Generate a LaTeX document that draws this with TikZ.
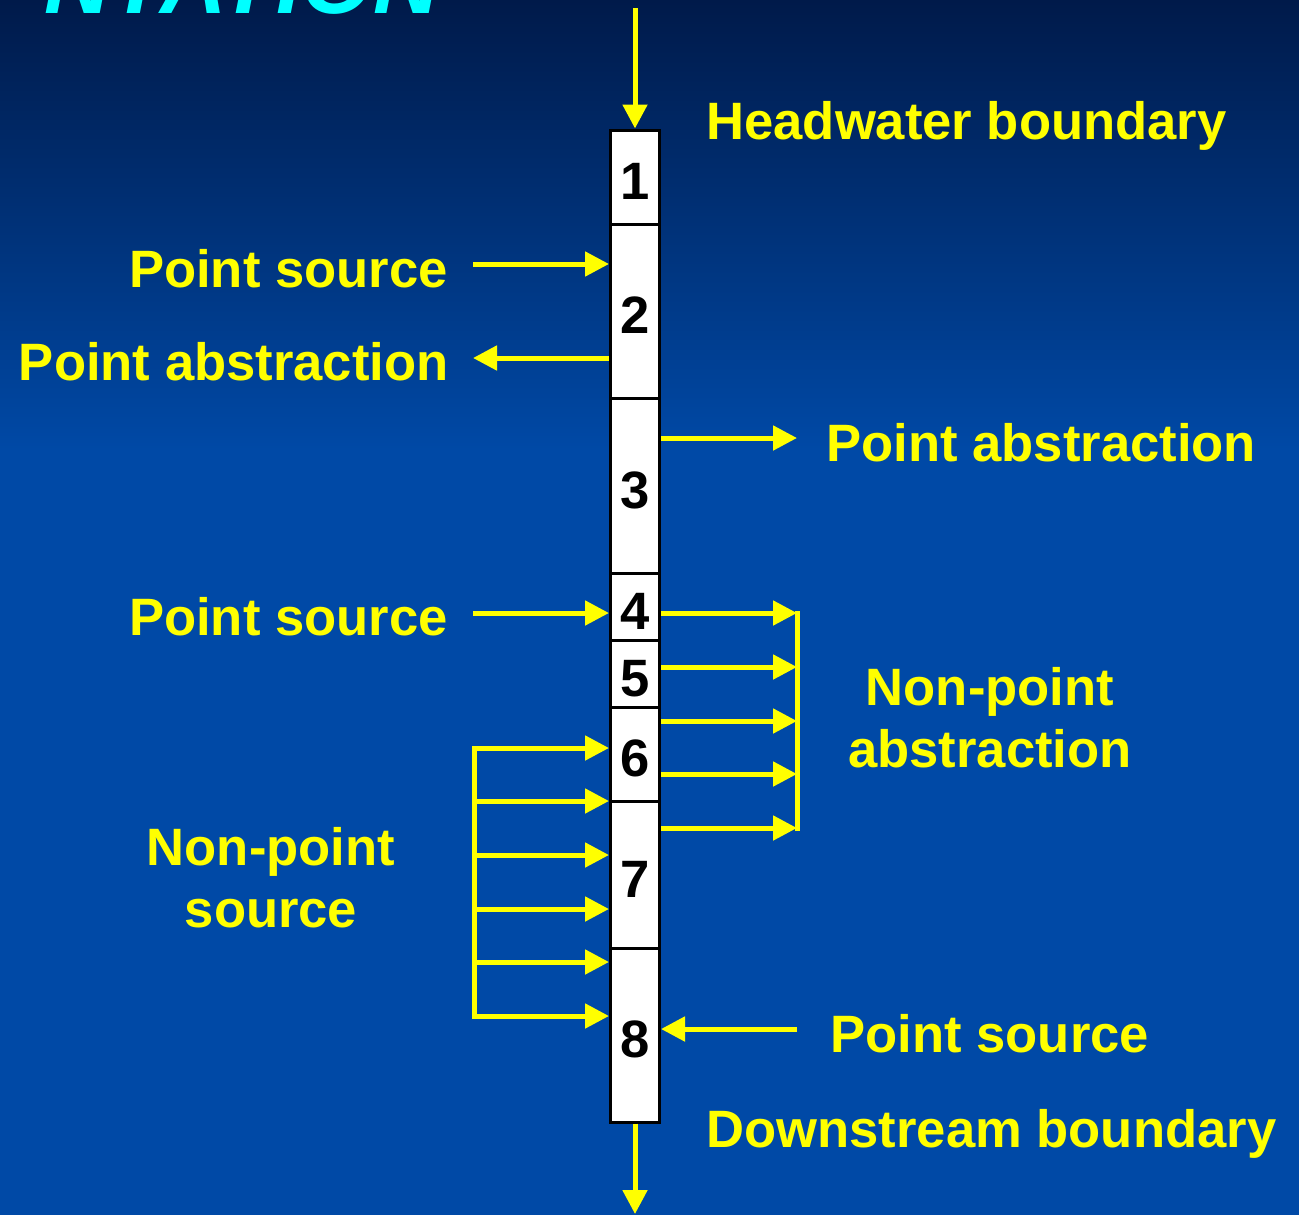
\documentclass[tikz,border=0pt]{standalone}
\usepackage{fontspec}
\setmainfont{Liberation Sans}
\usetikzlibrary{arrows.meta}
\definecolor{bgtop}{HTML}{001A4A}
\definecolor{bgbot}{HTML}{0049A6}
\definecolor{ylw}{HTML}{FFFF00}
\definecolor{cyn}{HTML}{00FFFF}
\begin{document}
\begin{tikzpicture}[x=0.5pt,y=-0.5pt,
  lbl/.style={text=ylw, font=\fontsize{26.3}{31}\selectfont\bfseries, inner sep=0pt},
  cell/.style={draw=black, line width=1.5pt, fill=white, minimum width=24.5pt, inner sep=0pt,
    font=\fontsize{26.3}{31}\selectfont\bfseries, text height=22.8pt, text depth=0pt},
  flow/.style={draw=ylw, line width=2.5pt, -{Triangle[length=12pt,width=12pt]}},
  rail/.style={draw=ylw, line width=2.5pt, line cap=rect}]
\clip (0,0) rectangle (1299,1215);
\fill[bgbot] (0,0) rectangle (1299,1215);
\shade[top color=bgtop, bottom color=bgbot] (0,0) rectangle (1299,450);
% title fragment
\node[text=cyn, font=\fontsize{46}{50}\selectfont\bfseries\itshape, anchor=base east, inner sep=0pt] (title) at (440,13) {NTATION};
% cells
\node[cell, minimum height=47pt]   (b1) at (635,177)   {1};
\node[cell, minimum height=87pt]   (b2) at (635,311)   {2};
\node[cell, minimum height=87.5pt] (b3) at (635,485.5) {3};
\node[cell, minimum height=33.5pt] (b4) at (635,606.5) {4};
\node[cell, minimum height=33.5pt] (b5) at (635,673.5) {5};
\node[cell, minimum height=47pt]   (b6) at (635,754)   {6};
\node[cell, minimum height=73.5pt] (b7) at (635,874.5) {7};
\node[cell, minimum height=87pt]   (b8) at (635,1035)  {8};
% labels
\node[lbl, anchor=base west] (hw)  at (706,139)  {Headwater boundary};
\node[lbl, anchor=base east] (ps1) at (448,287)  {Point source};
\node[lbl, anchor=base east] (pa1) at (449,380)  {Point abstraction};
\node[lbl, anchor=base west] (pa2) at (826,461)  {Point abstraction};
\node[lbl, anchor=base east] (ps2) at (448,635)  {Point source};
\node[lbl, align=center, anchor=north] (npa) at (990,667) {Non-point\\abstraction};
\node[lbl, align=center, anchor=north] (nps) at (271,827) {Non-point\\source};
\node[lbl, anchor=base west] (ps3) at (830,1052) {Point source};
\node[lbl, anchor=base west] (ds)  at (706,1147) {Downstream boundary};
% boundary arrows
\coordinate (top) at (635,8);
\coordinate (bot) at (635,1214);
\draw[flow] (top) -- (b1.north);
\draw[flow] (b8.south) -- (bot);
% point sources / abstractions
\coordinate (ps1e) at (473,264);
\coordinate (pa1e) at (473,358);
\coordinate (pa2e) at (797,438);
\coordinate (ps2e) at (473,613);
\coordinate (ps3e) at (797,1029);
\draw[flow] (ps1e) -- (ps1e -| b2.west);
\draw[flow] (pa1e -| b2.west) -- (pa1e);
\draw[flow] (pa2e -| b3.east) -- (pa2e);
\draw[flow] (ps2e) -- (ps2e -| b4.west);
\draw[flow] (ps3e) -- (ps3e -| b8.east);
% non-point abstraction
\coordinate (na1) at (797,613);
\coordinate (na2) at (797,667);
\coordinate (na3) at (797,721);
\coordinate (na4) at (797,774);
\coordinate (na5) at (797,828);
\draw[rail] (na1) -- (na5);
\draw[flow] (na1 -| b4.east) -- (na1);
\draw[flow] (na2 -| b5.east) -- (na2);
\draw[flow] (na3 -| b6.east) -- (na3);
\draw[flow] (na4 -| b6.east) -- (na4);
\draw[flow] (na5 -| b7.east) -- (na5);
% non-point source
\coordinate (ns1) at (474,748);
\coordinate (ns2) at (474,801);
\coordinate (ns3) at (474,855);
\coordinate (ns4) at (474,909);
\coordinate (ns5) at (474,962);
\coordinate (ns6) at (474,1016);
\draw[rail] (ns1) -- (ns6);
\draw[flow] (ns1) -- (ns1 -| b6.west);
\draw[flow] (ns2) -- (ns2 -| b7.west);
\draw[flow] (ns3) -- (ns3 -| b7.west);
\draw[flow] (ns4) -- (ns4 -| b7.west);
\draw[flow] (ns5) -- (ns5 -| b8.west);
\draw[flow] (ns6) -- (ns6 -| b8.west);
\end{tikzpicture}
\end{document}
